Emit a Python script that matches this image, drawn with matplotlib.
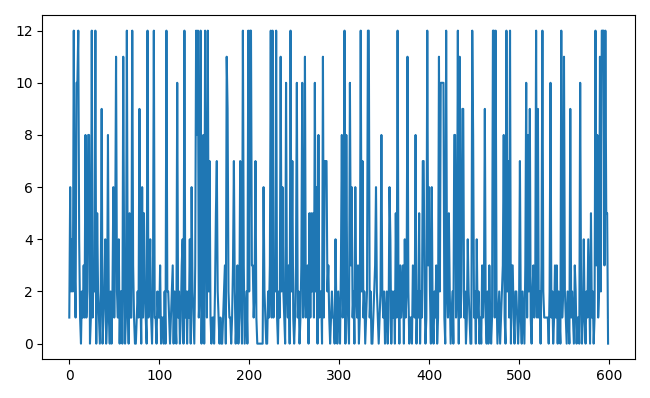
import numpy as np
import matplotlib
matplotlib.use("Agg")
import matplotlib.pyplot as plt

counts_part1 = [
    1, 6, 2, 4, 2, 12, 3, 1, 10, 10, 12, 4, 1, 0, 2, 1, 3, 1, 8, 1,
    2, 8, 8, 0, 1, 12, 1, 3, 2, 12, 0, 5, 2, 1, 0, 2, 9, 0, 1, 2,
    4, 0, 1, 8, 1, 0, 2, 0, 2, 6, 1, 4, 11, 2, 1, 4, 0, 2, 2, 0,
    11, 3, 0, 1, 12, 2, 0, 5, 1, 1, 12, 3, 1, 0, 0, 1, 2, 1, 9, 2,
    0, 6, 1, 5, 2, 1, 0, 12, 1, 2, 4, 1, 0, 2, 12, 1, 1, 0, 2, 1,
    1, 3, 0, 1, 1, 0, 2, 0, 12, 2, 2, 1, 0, 1, 2, 3, 0, 2, 1, 0,
    10, 1, 2, 0, 1, 3, 4, 0, 12, 1, 2, 0, 2, 1, 4, 0, 6, 2, 1, 0,
    3, 12, 8, 12, 1, 2, 12, 0, 3, 8, 0, 12, 4, 1, 12, 2, 7, 1, 0, 1,
    1, 0, 2, 5, 7, 2, 1, 0, 1, 0, 0, 1, 2, 3, 0, 11, 9, 2, 1, 1,
    0, 1, 3, 7, 2, 0, 1, 3, 0, 1, 7, 2, 0, 12, 3, 0, 1, 2, 0, 12,
]
counts_part2 = [
    2, 12, 12, 3, 3, 1, 2, 7, 1, 0, 0, 0, 0, 0, 0, 0, 6, 2, 1, 0,
    0, 2, 1, 3, 12, 1, 12, 1, 3, 2, 12, 1, 0, 2, 1, 11, 2, 6, 2, 1,
    0, 10, 2, 1, 3, 0, 12, 2, 7, 1, 0, 1, 3, 10, 1, 2, 0, 1, 3, 10,
    1, 2, 11, 1, 2, 3, 0, 5, 1, 5, 2, 5, 1, 10, 2, 6, 0, 8, 1, 2,
    2, 0, 11, 1, 7, 7, 7, 2, 3, 1, 0, 1, 2, 1, 1, 0, 4, 1, 0, 2,
    1, 0, 3, 8, 1, 2, 12, 0, 8, 2, 1, 0, 10, 3, 6, 1, 2, 0, 6, 2,
    1, 3, 0, 1, 12, 2, 7, 1, 2, 0, 1, 2, 12, 12, 1, 2, 0, 0, 1, 2,
    3, 6, 2, 1, 0, 1, 2, 8, 2, 1, 2, 0, 1, 2, 0, 1, 6, 4, 0, 2,
    1, 2, 0, 5, 1, 12, 2, 0, 3, 1, 2, 3, 0, 4, 1, 2, 11, 2, 0, 1,
    1, 0, 3, 2, 1, 8, 0, 2, 1, 5, 0, 2, 1, 7, 7, 2, 0, 1, 12, 3,
]
counts_part3 = [
    6, 2, 0, 6, 1, 0, 2, 1, 3, 0, 1, 11, 2, 10, 10, 10, 10, 1, 0, 12,
    2, 1, 5, 2, 0, 1, 2, 0, 8, 8, 1, 2, 12, 0, 11, 1, 2, 9, 9, 1,
    2, 0, 1, 4, 2, 1, 0, 0, 12, 8, 1, 2, 0, 4, 1, 2, 0, 1, 0, 3,
    1, 2, 9, 1, 0, 2, 0, 3, 1, 0, 1, 12, 12, 1, 12, 2, 0, 1, 2, 0,
    1, 2, 3, 8, 1, 0, 12, 2, 7, 1, 12, 0, 3, 3, 1, 0, 2, 2, 1, 0,
    1, 7, 1, 0, 2, 1, 0, 3, 10, 1, 8, 2, 9, 1, 0, 2, 3, 1, 2, 12,
    1, 9, 1, 2, 0, 3, 12, 2, 1, 1, 1, 1, 1, 0, 2, 10, 1, 2, 0, 1,
    3, 1, 3, 0, 2, 1, 0, 12, 1, 2, 11, 2, 1, 0, 2, 1, 0, 9, 1, 2,
    1, 0, 3, 2, 0, 1, 1, 0, 10, 2, 0, 1, 4, 1, 0, 2, 1, 4, 2, 0,
    5, 1, 2, 0, 1, 12, 3, 8, 1, 2, 11, 2, 12, 12, 12, 3, 12, 5, 5, 0,
]

values = counts_part1 + counts_part2 + counts_part3
x = np.arange(len(values))

fig, ax = plt.subplots(figsize=(6.5, 3.98), dpi=100)
ax.plot(x, values, color="#1f77b4", linewidth=1.5)
fig.tight_layout()
fig.savefig("out.png", dpi=100)
